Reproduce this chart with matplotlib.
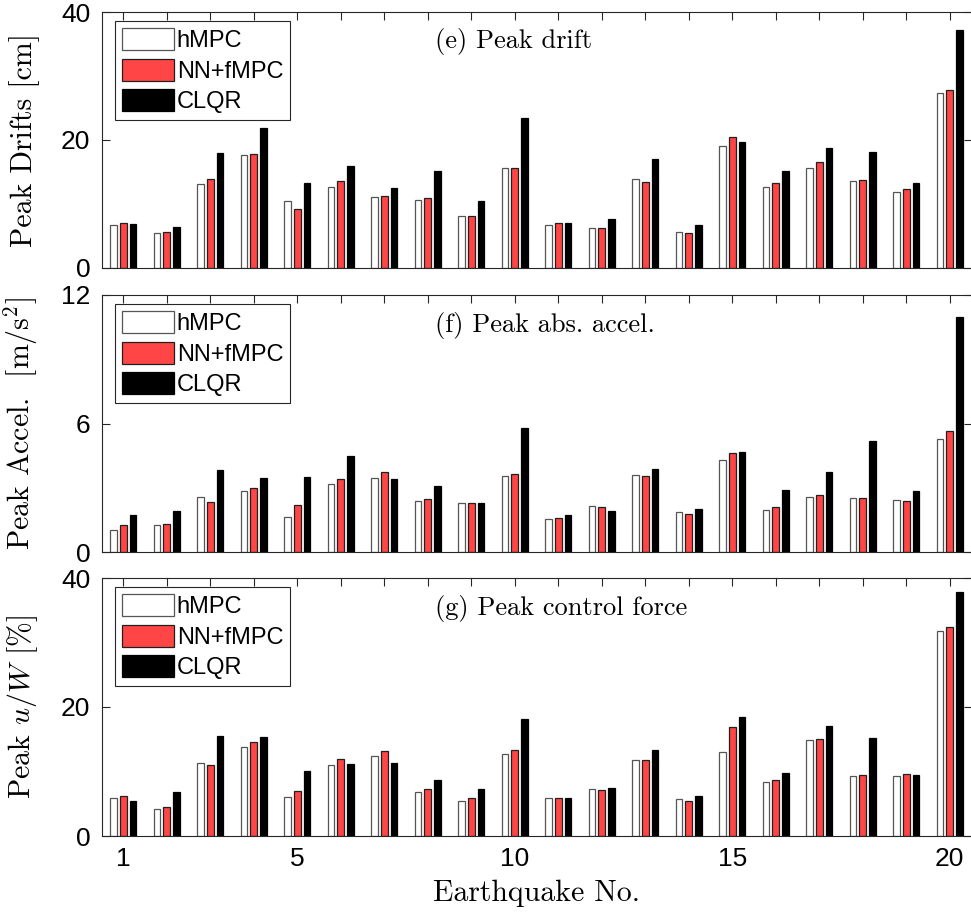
import numpy as np
import matplotlib
matplotlib.use("Agg")
import matplotlib.pyplot as plt

# earthquake numbers
quakes = np.arange(1, 21)
series_names = ["hMPC", "NN+fMPC", "CLQR"]

# (e) peak drift [cm]
drift_hmpc = [6.75, 5.45, 13.1, 17.6, 10.4, 12.6, 11.1, 10.7, 8.15, 15.6,
              6.75, 6.2, 13.9, 5.7, 19.0, 12.7, 15.7, 13.65, 11.8, 27.3]
drift_nn = [7.1, 5.6, 13.9, 17.8, 9.2, 13.6, 11.3, 11.0, 8.2, 15.6,
            7.0, 6.2, 13.5, 5.45, 20.5, 13.3, 16.5, 13.7, 12.4, 27.8]
drift_clqr = [6.9, 6.45, 18.0, 21.9, 13.35, 16.0, 12.5, 15.1, 10.4, 23.5,
              7.0, 7.7, 17.1, 6.75, 19.7, 15.2, 18.7, 18.1, 13.25, 37.2]

# (f) peak abs. accel. [m/s^2]
accel_hmpc = [1.03, 1.24, 2.55, 2.84, 1.62, 3.16, 3.47, 2.38, 2.27, 3.54,
              1.54, 2.15, 3.59, 1.85, 4.29, 1.96, 2.55, 2.52, 2.44, 5.27]
accel_nn = [1.26, 1.29, 2.35, 2.97, 2.19, 3.39, 3.72, 2.49, 2.30, 3.64,
            1.60, 2.10, 3.53, 1.77, 4.62, 2.11, 2.66, 2.53, 2.39, 5.66]
accel_clqr = [1.74, 1.90, 3.84, 3.45, 3.51, 4.48, 3.39, 3.09, 2.27, 5.81,
              1.71, 1.93, 3.89, 2.01, 4.69, 2.88, 3.75, 5.19, 2.86, 10.97]

# (g) peak control force u/W [%]
force_hmpc = [5.94, 4.13, 11.3, 13.75, 6.05, 10.96, 12.35, 6.87, 5.48, 12.7,
              5.89, 7.29, 11.78, 5.79, 12.97, 8.32, 14.94, 9.35, 9.25, 31.8]
force_nn = [6.25, 4.44, 11.06, 14.57, 6.98, 11.89, 13.18, 7.29, 5.89, 13.33,
            5.94, 7.13, 11.78, 5.48, 16.95, 8.68, 14.99, 9.41, 9.66, 32.4]
force_clqr = [5.48, 6.77, 15.56, 15.4, 10.13, 11.21, 11.32, 8.68, 7.29, 18.19,
              5.94, 7.44, 13.38, 6.25, 18.45, 9.72, 17.1, 15.25, 9.41, 37.9]

titles = ["(e) Peak drift", "(f) Peak abs. accel.", "(g) Peak control force"]
ylabels = ["Peak Drifts [cm]", r"Peak Accel.  [m/s$^2$]", r"Peak $u/W$ [%]"]
yticks = [[0, 20, 40], [0, 6, 12], [0, 20, 40]]
xtick_labels = ["1", "", "", "", "5", "", "", "", "", "10",
                "", "", "", "", "15", "", "", "", "", "20"]

plt.rcParams["mathtext.fontset"] = "cm"
sans = ["Liberation Sans", "DejaVu Sans"]
serif = ["cmr10", "DejaVu Serif"]
tickc = "#262626"

fig = plt.figure(figsize=(9.71, 9.18), dpi=100)
W, H = 971.0, 918.0
left = 101.5 / W
width = 870.0 / W
boxes = [(12, 268), (295, 552), (578, 836)]

data = [(drift_hmpc, drift_nn, drift_clqr),
        (accel_hmpc, accel_nn, accel_clqr),
        (force_hmpc, force_nn, force_clqr)]

faces = ["white", "#ff4545", "black"]
edges = ["#555555", "#202020", "black"]
offs = [-0.225, 0.0, 0.225]
bw = 0.15

for i, (vals, (top, bot)) in enumerate(zip(data, boxes)):
    ax = fig.add_axes([left, 1 - bot / H, width, (bot - top) / H])
    for k in range(3):
        ax.bar(quakes + offs[k], vals[k], width=bw, color=faces[k],
               edgecolor=edges[k], linewidth=0.9, label=series_names[k], zorder=2)
    ax.set_xlim(0.5, 20.5)
    ax.set_ylim(yticks[i][0], yticks[i][-1])
    ax.set_yticks(yticks[i])
    ax.set_xticks(quakes)
    if i == 2:
        ax.set_xticklabels(xtick_labels)
        ax.set_xlabel("Earthquake No.", fontsize=21.5, family=serif, labelpad=6)
    else:
        ax.set_xticklabels([])
    ax.tick_params(direction="in", length=6, width=0.8, color=tickc,
                   top=True, right=True, labelsize=19, pad=8)
    for lab in ax.get_yticklabels() + ax.get_xticklabels():
        lab.set_family(sans)
    for sp in ax.spines.values():
        sp.set_color(tickc)
        sp.set_linewidth(0.8)
    ax.set_ylabel(ylabels[i], fontsize=21.5, family=serif)
    ax.yaxis.set_label_coords(-0.071, 0.5)
    ax.text(8.17, 0.883, titles[i], transform=ax.get_xaxis_transform(),
            ha="left", va="center", fontsize=19, family=serif)
    leg = ax.legend(loc="upper left", bbox_to_anchor=(0.0155, 0.965),
                    borderaxespad=0, prop={"family": sans, "size": 17},
                    handlelength=2.2, handleheight=1.05, handletextpad=0.12,
                    labelspacing=0.28, borderpad=0.3, fancybox=False,
                    framealpha=1)
    leg.get_frame().set_edgecolor(tickc)
    leg.get_frame().set_linewidth(0.8)

fig.savefig("out.png", dpi=100)
